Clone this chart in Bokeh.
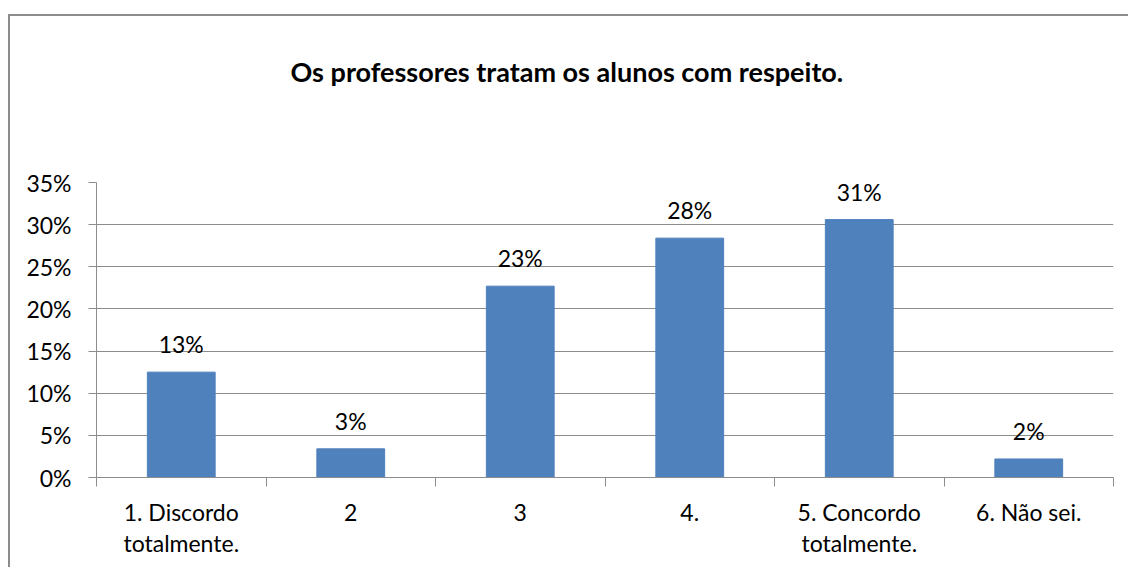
from bokeh.plotting import figure
from bokeh.models import Range1d, FixedTicker, LabelSet, ColumnDataSource, Title
from bokeh.core.properties import value
from bokeh.embed import file_html
from bokeh.resources import INLINE

# ---- data ----
title_text = "Os professores tratam os alunos com respeito."
categories = ["1. Discordo\ntotalmente.", "2", "3", "4.", "5. Concordo\ntotalmente.", "6. Não sei."]
values = [0.125, 0.034, 0.227, 0.284, 0.306, 0.022]
value_labels = ["13%", "3%", "23%", "28%", "31%", "2%"]
y_ticks = [0.0, 0.05, 0.10, 0.15, 0.20, 0.25, 0.30, 0.35]
y_tick_labels = ["0%", "5%", "10%", "15%", "20%", "25%", "30%", "35%"]

FONT = "Lato"
FS = "23px"
GRAY = "#8c8c8c"
BAR = "#4F81BD"

n = len(categories)
centers = [i + 0.5 for i in range(n)]
bounds = [i for i in range(n + 1)]

p = figure(width=1120, height=553, output_backend="svg", toolbar_location=None,
           x_range=Range1d(0, n), y_range=Range1d(0, 0.35),
           min_border_left=86, min_border_right=17, min_border_top=166, min_border_bottom=92,
           margin=(14, 0, 0, 8))
p.styles = {"border-top": "2px solid #8c8c8c", "border-left": "2px solid #8c8c8c"}
p.outline_line_color = None
p.background_fill_color = "white"
p.border_fill_color = "white"

src = ColumnDataSource(dict(x=centers, top=values, lab=value_labels))
p.vbar(x="x", top="top", bottom=0, width=0.4, source=src, fill_color=BAR, line_color=BAR)

p.add_layout(LabelSet(x="x", y="top", text="lab", source=src, y_offset=19,
                      text_align="center", text_baseline="alphabetic",
                      text_font=value(FONT), text_font_size=value(FS), text_color="black"))

# x axis
p.xaxis.ticker = FixedTicker(ticks=centers, minor_ticks=bounds)
p.xaxis.major_label_overrides = {c: lab for c, lab in zip(centers, categories)}
p.xaxis.major_tick_out = 0
p.xaxis.major_tick_in = 0
p.xaxis.minor_tick_out = 9
p.xaxis.minor_tick_in = 0
p.xaxis.minor_tick_line_color = GRAY
p.xaxis.axis_line_color = GRAY
p.xaxis.major_label_standoff = 11
p.xaxis.major_label_text_font = FONT
p.xaxis.major_label_text_font_size = FS
p.xaxis.major_label_text_color = "black"
p.xaxis.major_label_text_line_height = 1.14
p.xgrid.grid_line_color = None

# y axis
p.yaxis.ticker = FixedTicker(ticks=y_ticks)
p.yaxis.major_label_overrides = {t: l for t, l in zip(y_ticks, y_tick_labels)}
p.yaxis.major_tick_out = 8
p.yaxis.major_tick_in = 0
p.yaxis.minor_tick_line_color = None
p.yaxis.axis_line_color = GRAY
p.yaxis.major_tick_line_color = GRAY
p.yaxis.major_label_standoff = 17
p.yaxis.major_label_text_font = FONT
p.yaxis.major_label_text_font_size = FS
p.yaxis.major_label_text_color = "black"
p.ygrid.grid_line_color = GRAY
p.ygrid.grid_line_width = 1

# spacer between frame and title, then the title itself
p.add_layout(Title(text=" ", standoff=87, text_font_size="1px"), "above")
p.add_layout(Title(text=title_text, align="left", offset=194, standoff=10,
                   text_font=FONT, text_font_size="27px", text_font_style="bold",
                   text_color="black"), "above")

open("out.html", "w").write(file_html(p, INLINE))
